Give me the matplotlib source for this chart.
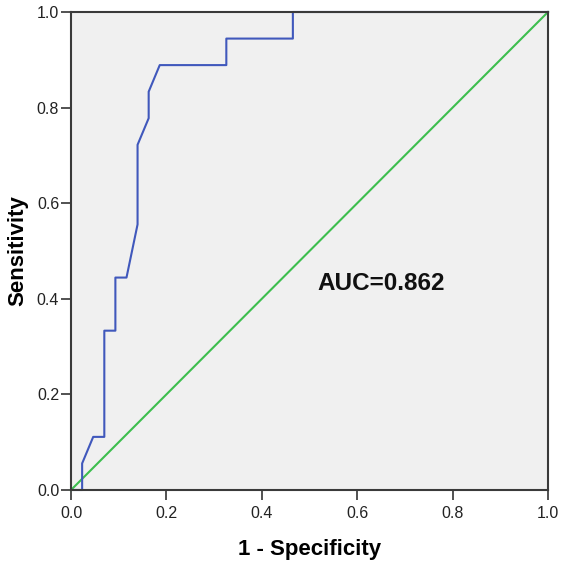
import matplotlib
matplotlib.use("Agg")
import matplotlib.pyplot as plt

plt.rcParams['font.family'] = ['Liberation Sans', 'DejaVu Sans']

# ROC curve points (1 - specificity, sensitivity)
fpr = [0.0, 0.0233, 0.0233, 0.0465, 0.0698, 0.0698, 0.0930, 0.0930, 0.1163,
       0.1395, 0.1395, 0.1628, 0.1628, 0.1860, 0.3256, 0.3256, 0.4651, 0.4651, 1.0]
tpr = [0.0, 0.0, 0.0556, 0.1111, 0.1111, 0.3333, 0.3333, 0.4444, 0.4444,
       0.5556, 0.7222, 0.7778, 0.8333, 0.8889, 0.8889, 0.9444, 0.9444, 1.0, 1.0]
ref_line = [0.0, 1.0]
ticks = [0.0, 0.2, 0.4, 0.6, 0.8, 1.0]
auc_text = "AUC=0.862"

fig = plt.figure(figsize=(5.76, 5.66), dpi=100)
ax = fig.add_axes([0.1233, 0.1343, 0.8281, 0.8445])
ax.set_facecolor('#F0F0F0')

ax.plot(ref_line, ref_line, color='#3DBE4E', lw=1.5, clip_on=False, zorder=2)
ax.plot(fpr, tpr, color='#4058BC', lw=1.5, clip_on=False, zorder=3)

ax.set_xlim(0, 1)
ax.set_ylim(0, 1)
ax.set_xticks(ticks)
ax.set_yticks(ticks)
ax.set_xticklabels([f"{t:.1f}" for t in ticks])
ax.set_yticklabels([f"{t:.1f}" for t in ticks])
ax.tick_params(direction='out', length=7.5, width=1.2, color='#333333',
               labelsize=11.5, labelcolor='#222222')
ax.tick_params(axis='x', pad=4)
ax.tick_params(axis='y', pad=1)

for s in ax.spines.values():
    s.set_color('#3a3a3a')
    s.set_linewidth(1.5)
    s.set_zorder(4)

ax.set_xlabel("1 - Specificity", fontsize=16, fontweight='bold', labelpad=13)
ax.set_ylabel("Sensitivity", fontsize=16, fontweight='bold', labelpad=6)

ax.text(0.516, 0.433, auc_text, fontsize=17.5, fontweight='bold',
        ha='left', va='center', color='#111111')

fig.savefig("out.png", dpi=100)
